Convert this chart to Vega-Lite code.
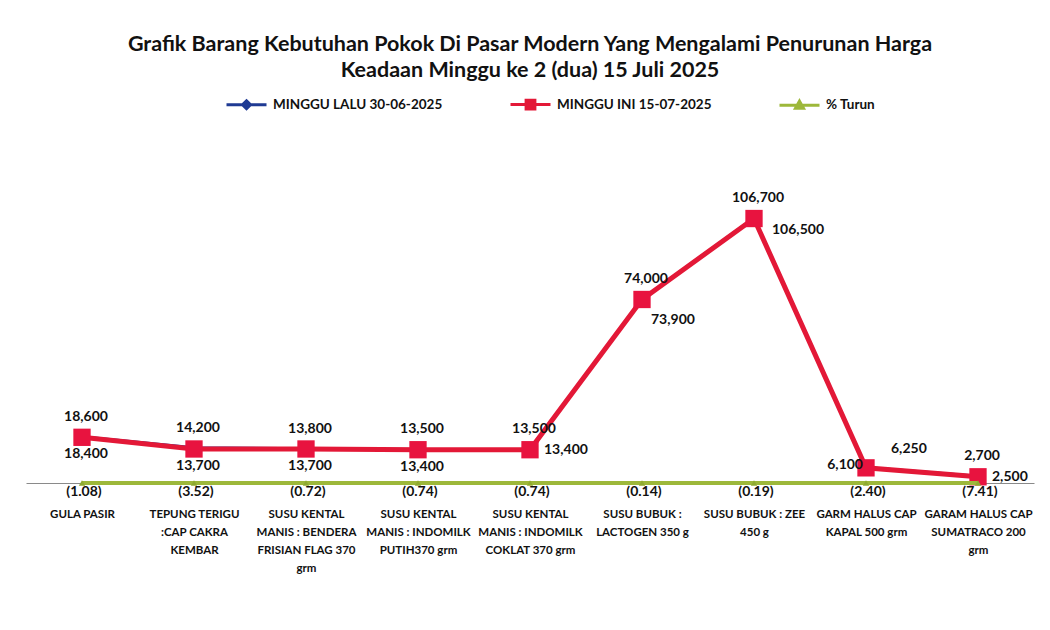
{
  "$schema": "https://vega.github.io/schema/vega-lite/v6.json",
  "width": 1008,
  "height": 298,
  "autosize": "none",
  "padding": {"left": 26, "top": 185, "right": 16, "bottom": 147},
  "background": "#ffffff",
  "config": {"view": {"stroke": null}, "font": "Lato"},
  "title": {
    "text": ["Grafik Barang Kebutuhan Pokok Di Pasar Modern Yang Mengalami Penurunan Harga", "Keadaan Minggu ke 2 (dua) 15 Juli 2025"],
    "font": "Lato", "fontSize": 21.5, "fontWeight": "bold", "color": "#111111",
    "anchor": "middle", "offset": 2, "lineHeight": 26
  },
  "data": {
    "values": [
      {"item": "GULA PASIR", "series": "MINGGU LALU 30-06-2025", "value": 18600},
      {"item": "TEPUNG TERIGU :CAP  CAKRA KEMBAR", "series": "MINGGU LALU 30-06-2025", "value": 14200},
      {"item": "SUSU KENTAL MANIS : BENDERA FRISIAN FLAG 370 grm", "series": "MINGGU LALU 30-06-2025", "value": 13800},
      {"item": "SUSU KENTAL MANIS : INDOMILK PUTIH370 grm", "series": "MINGGU LALU 30-06-2025", "value": 13500},
      {"item": "SUSU KENTAL MANIS : INDOMILK COKLAT 370 grm", "series": "MINGGU LALU 30-06-2025", "value": 13500},
      {"item": "SUSU BUBUK : LACTOGEN 350 g", "series": "MINGGU LALU 30-06-2025", "value": 74000},
      {"item": "SUSU BUBUK : ZEE 450 g", "series": "MINGGU LALU 30-06-2025", "value": 106700},
      {"item": "GARM HALUS CAP KAPAL 500 grm", "series": "MINGGU LALU 30-06-2025", "value": 6250},
      {"item": "GARAM HALUS CAP SUMATRACO 200 grm", "series": "MINGGU LALU 30-06-2025", "value": 2700},
      {"item": "GULA PASIR", "series": "MINGGU INI 15-07-2025", "value": 18400},
      {"item": "TEPUNG TERIGU :CAP  CAKRA KEMBAR", "series": "MINGGU INI 15-07-2025", "value": 13700},
      {"item": "SUSU KENTAL MANIS : BENDERA FRISIAN FLAG 370 grm", "series": "MINGGU INI 15-07-2025", "value": 13700},
      {"item": "SUSU KENTAL MANIS : INDOMILK PUTIH370 grm", "series": "MINGGU INI 15-07-2025", "value": 13400},
      {"item": "SUSU KENTAL MANIS : INDOMILK COKLAT 370 grm", "series": "MINGGU INI 15-07-2025", "value": 13400},
      {"item": "SUSU BUBUK : LACTOGEN 350 g", "series": "MINGGU INI 15-07-2025", "value": 73900},
      {"item": "SUSU BUBUK : ZEE 450 g", "series": "MINGGU INI 15-07-2025", "value": 106500},
      {"item": "GARM HALUS CAP KAPAL 500 grm", "series": "MINGGU INI 15-07-2025", "value": 6100},
      {"item": "GARAM HALUS CAP SUMATRACO 200 grm", "series": "MINGGU INI 15-07-2025", "value": 2500},
      {"item": "GULA PASIR", "series": "% Turun", "value": -1.08},
      {"item": "TEPUNG TERIGU :CAP  CAKRA KEMBAR", "series": "% Turun", "value": -3.52},
      {"item": "SUSU KENTAL MANIS : BENDERA FRISIAN FLAG 370 grm", "series": "% Turun", "value": -0.72},
      {"item": "SUSU KENTAL MANIS : INDOMILK PUTIH370 grm", "series": "% Turun", "value": -0.74},
      {"item": "SUSU KENTAL MANIS : INDOMILK COKLAT 370 grm", "series": "% Turun", "value": -0.74},
      {"item": "SUSU BUBUK : LACTOGEN 350 g", "series": "% Turun", "value": -0.14},
      {"item": "SUSU BUBUK : ZEE 450 g", "series": "% Turun", "value": -0.19},
      {"item": "GARM HALUS CAP KAPAL 500 grm", "series": "% Turun", "value": -2.40},
      {"item": "GARAM HALUS CAP SUMATRACO 200 grm", "series": "% Turun", "value": -7.41}
    ]
  },
  "encoding": {
    "x": {
      "field": "item", "type": "nominal", "sort": null,
      "scale": {"paddingInner": 0, "paddingOuter": 0},
      "axis": {
        "title": null, "labelAngle": 0, "ticks": false, "domainColor": "#8a8a8a", "domainWidth": 1,
        "labelFont": "Lato", "labelFontWeight": "bold", "labelFontSize": 11.5, "labelColor": "#111111",
        "labelPadding": 31, "labelLineHeight": 18, "labelBaseline": "middle", "labelLimit": 200,
        "labelExpr": "({'GULA PASIR':['GULA PASIR'],'TEPUNG TERIGU :CAP  CAKRA KEMBAR':['TEPUNG TERIGU',':CAP  CAKRA','KEMBAR'],'SUSU KENTAL MANIS : BENDERA FRISIAN FLAG 370 grm':['SUSU KENTAL','MANIS : BENDERA','FRISIAN FLAG 370','grm'],'SUSU KENTAL MANIS : INDOMILK PUTIH370 grm':['SUSU KENTAL','MANIS : INDOMILK','PUTIH370 grm'],'SUSU KENTAL MANIS : INDOMILK COKLAT 370 grm':['SUSU KENTAL','MANIS : INDOMILK','COKLAT 370 grm'],'SUSU BUBUK : LACTOGEN 350 g':['SUSU BUBUK :','LACTOGEN 350 g'],'SUSU BUBUK : ZEE 450 g':['SUSU BUBUK : ZEE','450 g'],'GARM HALUS CAP KAPAL 500 grm':['GARM HALUS CAP','KAPAL 500 grm'],'GARAM HALUS CAP SUMATRACO 200 grm':['GARAM HALUS CAP','SUMATRACO 200','grm']})[datum.value]"
      }
    },
    "y": {
      "field": "value", "type": "quantitative",
      "scale": {"domain": [0, 120000], "nice": false, "zero": false},
      "axis": null
    }
  },
  "layer": [
    {
      "transform": [{"filter": "datum.series == 'MINGGU LALU 30-06-2025'"}],
      "mark": {"type": "line", "strokeWidth": 3},
      "encoding": {
        "color": {
          "field": "series", "type": "nominal",
          "scale": {"domain": ["MINGGU LALU 30-06-2025", "MINGGU INI 15-07-2025", "% Turun"], "range": ["#1F3A93", "#E31837", "#9DB83A"]},
          "legend": {
            "orient": "none", "legendX": 199, "legendY": -102, "direction": "horizontal", "title": null,
            "padding": 0, "columnPadding": 61, "symbolSize": 1600, "symbolStrokeWidth": 3,
            "labelFont": "Lato", "labelFontWeight": "bold", "labelFontSize": 13.5, "labelColor": "#111111", "labelOffset": 5, "labelLimit": 400,
            "encode": {
              "symbols": {
                "update": {
                  "shape": {"signal": "datum.value == 'MINGGU LALU 30-06-2025' ? 'M-1,0H1M0,-0.2L0.2,0L0,0.2L-0.2,0Z' : datum.value == 'MINGGU INI 15-07-2025' ? 'M-1,0H1M-0.22,-0.22H0.22V0.22H-0.22Z' : 'M-1,0H1M0,-0.2L0.2,0.16H-0.2Z'"},
                  "fill": {"scale": "color", "field": "value"},
                  "stroke": {"scale": "color", "field": "value"},
                  "fillOpacity": {"value": 1}
                }
              }
            }
          }
        }
      }
    },
    {
      "transform": [{"filter": "datum.series == 'MINGGU LALU 30-06-2025'"}],
      "mark": {"type": "point", "shape": "diamond", "filled": true, "size": 60, "opacity": 1, "color": "#1F3A93"},
      "encoding": {}
    },
    {
      "transform": [{"filter": "datum.series == 'MINGGU INI 15-07-2025'"}],
      "mark": {"type": "line", "strokeWidth": 5},
      "encoding": {"color": {"field": "series", "type": "nominal"}}
    },
    {
      "transform": [{"filter": "datum.series == 'MINGGU INI 15-07-2025'"}],
      "mark": {"type": "point", "shape": "square", "filled": true, "size": 300, "opacity": 1, "color": "#E8133F"},
      "encoding": {}
    },
    {
      "transform": [{"filter": "datum.series == '% Turun'"}],
      "mark": {"type": "line", "strokeWidth": 4},
      "encoding": {"color": {"field": "series", "type": "nominal"}}
    },
    {
      "transform": [{"filter": "datum.series == '% Turun'"}],
      "mark": {"type": "point", "shape": "triangle-up", "filled": true, "size": 40, "opacity": 1, "color": "#8FAA30"},
      "encoding": {}
    },
    {
      "transform": [{"filter": "datum.series == 'MINGGU LALU 30-06-2025' && datum.item != 'GARM HALUS CAP KAPAL 500 grm'"}],
      "mark": {"type": "text", "font": "Lato", "fontWeight": "bold", "fontSize": 14, "color": "#111111", "dx": 4, "dy": -20, "baseline": "middle"},
      "encoding": {"text": {"field": "value", "type": "quantitative", "format": ","}}
    },
    {
      "transform": [{"filter": "datum.series == 'MINGGU LALU 30-06-2025' && datum.item == 'GARM HALUS CAP KAPAL 500 grm'"}],
      "mark": {"type": "text", "font": "Lato", "fontWeight": "bold", "fontSize": 14, "color": "#111111", "align": "left", "dx": 25, "dy": -18, "baseline": "middle"},
      "encoding": {"text": {"field": "value", "type": "quantitative", "format": ","}}
    },
    {
      "transform": [{"filter": "datum.series == 'MINGGU INI 15-07-2025' && indexof(['GULA PASIR','TEPUNG TERIGU :CAP  CAKRA KEMBAR','SUSU KENTAL MANIS : BENDERA FRISIAN FLAG 370 grm','SUSU KENTAL MANIS : INDOMILK PUTIH370 grm'], datum.item) >= 0"}],
      "mark": {"type": "text", "font": "Lato", "fontWeight": "bold", "fontSize": 14, "color": "#111111", "dx": 4, "dy": 17, "baseline": "middle"},
      "encoding": {"text": {"field": "value", "type": "quantitative", "format": ","}}
    },
    {
      "transform": [{"filter": "datum.series == 'MINGGU INI 15-07-2025' && (datum.item == 'SUSU KENTAL MANIS : INDOMILK COKLAT 370 grm' || datum.item == 'GARAM HALUS CAP SUMATRACO 200 grm')"}],
      "mark": {"type": "text", "font": "Lato", "fontWeight": "bold", "fontSize": 14, "color": "#111111", "align": "left", "dx": 14, "dy": 0, "baseline": "middle"},
      "encoding": {"text": {"field": "value", "type": "quantitative", "format": ","}}
    },
    {
      "transform": [{"filter": "datum.series == 'MINGGU INI 15-07-2025' && datum.item == 'SUSU BUBUK : ZEE 450 g'"}],
      "mark": {"type": "text", "font": "Lato", "fontWeight": "bold", "fontSize": 14, "color": "#111111", "align": "left", "dx": 18, "dy": 11, "baseline": "middle"},
      "encoding": {"text": {"field": "value", "type": "quantitative", "format": ","}}
    },
    {
      "transform": [{"filter": "datum.series == 'MINGGU INI 15-07-2025' && datum.item == 'SUSU BUBUK : LACTOGEN 350 g'"}],
      "mark": {"type": "text", "font": "Lato", "fontWeight": "bold", "fontSize": 14, "color": "#111111", "align": "left", "dx": 9, "dy": 21, "baseline": "middle"},
      "encoding": {"text": {"field": "value", "type": "quantitative", "format": ","}}
    },
    {
      "transform": [{"filter": "datum.series == 'MINGGU INI 15-07-2025' && datum.item == 'GARM HALUS CAP KAPAL 500 grm'"}],
      "mark": {"type": "text", "font": "Lato", "fontWeight": "bold", "fontSize": 14, "color": "#111111", "align": "right", "dx": -3, "dy": -3, "baseline": "middle"},
      "encoding": {"text": {"field": "value", "type": "quantitative", "format": ","}}
    },
    {
      "transform": [{"filter": "datum.series == '% Turun'"}],
      "mark": {"type": "text", "font": "Lato", "fontWeight": "bold", "fontSize": 14, "color": "#111111", "dx": 2, "dy": 9, "baseline": "middle"},
      "encoding": {"text": {"field": "value", "type": "quantitative", "format": "(.2f"}}
    }
  ]
}
